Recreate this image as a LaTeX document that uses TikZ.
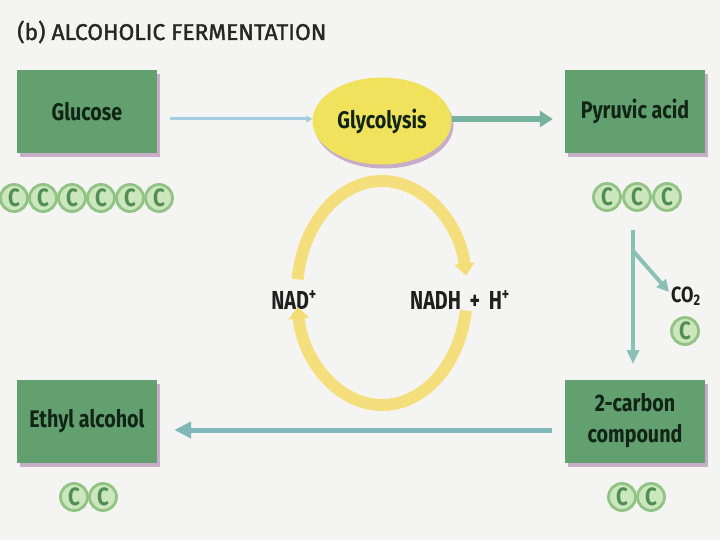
\documentclass[tikz,border=0pt]{standalone}
\usepackage{fontspec}
\setmainfont{Fira Sans}
\newfontfamily\lab[FakeStretch=0.82]{Fira Sans}
\newfontfamily\labn[FakeStretch=0.76]{Fira Sans}
\newfontfamily\titlef[FakeBold=1.5,FakeStretch=1.0]{Fira Sans}
\usetikzlibrary{arrows.meta,shadows,shapes.geometric}
\definecolor{bgc}{RGB}{244,245,243}
\definecolor{boxgreen}{RGB}{98,160,112}
\definecolor{boxtext}{RGB}{18,36,22}
\definecolor{shadowc}{RGB}{165,115,165}
\definecolor{glyyel}{RGB}{240,226,92}
\definecolor{cycyel}{RGB}{246,220,112}
\definecolor{thinblue}{RGB}{165,203,222}
\definecolor{teal}{RGB}{118,178,160}
\definecolor{lteal}{RGB}{140,192,182}
\definecolor{btmarrow}{RGB}{128,184,186}
\definecolor{cfill}{RGB}{204,230,190}
\definecolor{cring}{RGB}{145,195,132}
\definecolor{ctext}{RGB}{80,142,82}
\tikzset{
  stepbox/.style={rectangle, fill=boxgreen, minimum width=140pt, minimum height=83pt,
    inner sep=2pt, align=center, text=boxtext,
    font=\lab\bfseries\fontsize{24}{31}\selectfont,
    drop shadow={shadow xshift=3pt, shadow yshift=-4pt, fill=shadowc, opacity=0.55}},
  glybox/.style={ellipse, fill=glyyel, minimum width=139pt, minimum height=87pt, inner sep=0pt,
    text=boxtext, font=\lab\bfseries\fontsize{24}{26}\selectfont,
    drop shadow={shadow xshift=2pt, shadow yshift=-4pt, fill=shadowc, opacity=0.55}},
  ccirc/.style={circle, minimum size=27pt, inner sep=0pt, fill=cfill, draw=cring, line width=2.8pt,
    text=ctext, font=\lab\bfseries\fontsize{25}{25}\selectfont},
  lbl/.style={text=black!88, font=\labn\bfseries\fontsize{26}{28}\selectfont, inner sep=0pt},
  thinarr/.style={draw=thinblue, line width=3pt, -{Triangle[length=6pt,width=7pt]}},
  tealarr/.style={draw=teal, line width=5.5pt, -{Triangle[length=13pt,width=16pt]}},
  vertarr/.style={draw=lteal, line width=4pt, -{Triangle[length=14pt,width=12pt]}},
  btmarr/.style={draw=btmarrow, line width=5pt, -{Triangle[length=17pt,width=16pt]}},
  cycarr/.style={draw=cycyel, line width=12pt, opacity=0.9, -{Triangle[length=12pt,width=20pt]}}
}
\begin{document}
\begin{tikzpicture}[x=1pt,y=-1pt]
\useasboundingbox (0,0) rectangle (720,540);
\fill[bgc] (0,0) rectangle (720,540);

\node[anchor=west, inner sep=0pt, text=black!85, font=\titlef\fontsize{22.8}{25}\selectfont] (title) at (17,32) {(b) ALCOHOLIC FERMENTATION};

% boxes
\node[stepbox] (gluc) at (87,111.5) {Glucose};
\node[stepbox] (pyr) at (635,111.5) {Pyruvic acid};
\node[stepbox] (two) at (635,421) {2-carbon\\compound};
\node[stepbox] (eth) at (87,421) {Ethyl alcohol};
\node[glybox] (glyc) at (382,121) {Glycolysis};

% carbon circles
\foreach \i/\x in {1/14,2/43,3/72,4/101,5/130,6/159}
  \node[ccirc] (gc\i) at (\x,198) {C};
\foreach \i/\x in {1/607,2/637,3/667}
  \node[ccirc] (pc\i) at (\x,197) {C};
\foreach \i/\x in {1/622,2/651}
  \node[ccirc] (tc\i) at (\x,497) {C};
\foreach \i/\x in {1/74,2/103}
  \node[ccirc] (ec\i) at (\x,497) {C};
\node[ccirc] (coc) at (685,331) {C};

% labels
\node[lbl] (nad) at (294,300) {NAD\textsuperscript{+}};
\node[lbl] (nadh) at (460,300) {NADH\,\,+\,\,H\textsuperscript{+}};
\node[lbl, anchor=west, font=\lab\bfseries\fontsize{22}{24}\selectfont] (co2) at (671,296) {CO\textsubscript{2}};

% arrows
\coordinate (a1) at ([xshift=13pt,yshift=-7.5pt]gluc.east);
\draw[thinarr] (a1) -- (a1 -| glyc.west);
\coordinate (a2) at ([yshift=2pt]glyc.east);
\draw[tealarr] (a2) -- ([xshift=-12pt]a2 -| pyr.west);

\coordinate (v1) at (633,230);
\coordinate (v2) at (633,364);
\draw[vertarr] (v1) -- (v2);
\coordinate (vb) at (634,252);
\draw[draw=lteal, line width=4pt, -{Triangle[length=12pt,width=12pt]}] (vb) -- ([xshift=-2pt,yshift=4pt]co2.west);

\coordinate (b1) at ([xshift=-13pt,yshift=-9pt]two.west);
\draw[btmarr] (b1) -- ([xshift=17pt]b1 -| eth.east);

% NAD cycle
\draw[cycarr] (382,293) ++(187:85 and 112) arc[start angle=187, end angle=351, x radius=85, y radius=112];
\draw[cycarr] (382,293) ++(9:85 and 112) arc[start angle=9, end angle=173, x radius=85, y radius=112];
\end{tikzpicture}
\end{document}
